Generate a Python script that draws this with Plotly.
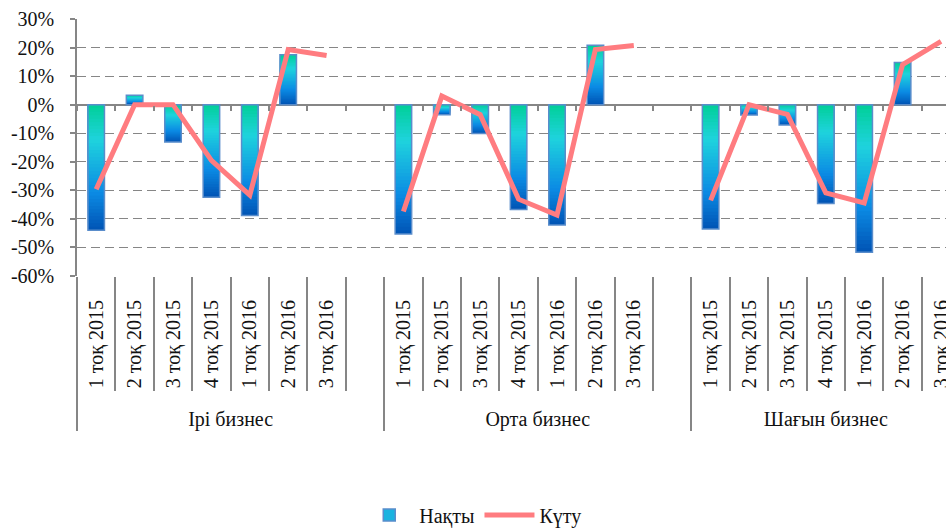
import plotly.graph_objects as go

# ---- data -------------------------------------------------------------
groups = ["Ірі бизнес", "Орта бизнес", "Шағын бизнес"]
quarters = ["1 тоқ 2015", "2 тоқ 2015", "3 тоқ 2015", "4 тоқ 2015",
            "1 тоқ 2016", "2 тоқ 2016", "3 тоқ 2016"]

actual_large = [-44.0, 3.3, -13.1, -32.4, -38.8, 17.5, None]
actual_medium = [-45.3, -3.5, -10.1, -36.7, -42.1, 20.8, None]
actual_small = [-43.5, -3.6, -7.1, -34.6, -51.7, 14.8, None]

expected_large = [-29.6, 0.0, 0.0, -19.5, -31.7, 19.3, 17.2]
expected_medium = [-37.4, 3.0, -3.5, -33.1, -38.7, 19.3, 20.7]
expected_small = [-33.5, 0.0, -3.4, -30.9, -34.4, 14.0, 22.2]

y_ticks = list(range(-60, 31, 10))

# ---- slot layout: each group is followed by an empty spacer slot -------
slot_x, slot_label, bar_vals, line_vals = [], [], [], []
group_start, group_center = [], []
series = [(actual_large, expected_large),
          (actual_medium, expected_medium),
          (actual_small, expected_small)]
pos = 0
for gi, (g, (act, exp)) in enumerate(zip(groups, series)):
    first = pos
    group_start.append(pos - 0.5)
    for q, a, e in zip(quarters, act, exp):
        slot_x.append(pos)
        slot_label.append(q)
        bar_vals.append(a)
        line_vals.append(e)
        pos += 1
    if gi < len(groups) - 1:
        slot_x.append(pos)
        slot_label.append("")
        bar_vals.append(None)
        line_vals.append(None)
        pos += 1
    group_center.append((first + pos - 1) / 2)

# ---- styling ------------------------------------------------------------
FONT = "'Times New Roman', 'Liberation Serif', 'DejaVu Serif', serif"
GREY = "#868686"
BORDER = "#5A8DCB"
LINE_COLOR = "#FF7C80"
BAR_W = 0.43
X_RANGE = [-0.5, 22.13]

# vertical gradient: top of bar (t=0) -> bottom of bar (t=1)
grad_stops = [(0.0, (0x00, 0xCF, 0x98)),
              (0.28, (0x1F, 0xD3, 0xDD)),
              (0.70, (0x0B, 0x8B, 0xE4)),
              (1.0, (0x00, 0x53, 0xB4))]


def grad_color(t):
    for (t0, c0), (t1, c1) in zip(grad_stops[:-1], grad_stops[1:]):
        if t <= t1:
            u = (t - t0) / (t1 - t0) if t1 > t0 else 0
            c = [round(a + (b - a) * u) for a, b in zip(c0, c1)]
            return "rgb({},{},{})".format(*c)
    return "rgb({},{},{})".format(*grad_stops[-1][1])


fig = go.Figure()

# gradient fill built from stacked overlay layers of each bar
N_LAYERS = 36
for k in range(N_LAYERS):
    f_hi = (N_LAYERS - k) / N_LAYERS
    f_mid = (N_LAYERS - k - 0.5) / N_LAYERS
    ys, cols = [], []
    for v in bar_vals:
        if v is None:
            ys.append(None)
            cols.append("rgba(0,0,0,0)")
        else:
            ys.append(v * f_hi)
            t = f_mid if v < 0 else 1 - f_mid
            cols.append(grad_color(t))
    fig.add_trace(go.Bar(x=slot_x, y=ys, width=BAR_W,
                         marker=dict(color=cols, line=dict(width=0)),
                         showlegend=False, hoverinfo="skip"))

# bar outlines
fig.add_trace(go.Bar(x=slot_x, y=bar_vals, width=BAR_W, name="Нақты",
                     marker=dict(color="rgba(0,0,0,0)",
                                 line=dict(color=BORDER, width=1.5)),
                     showlegend=False))

# legend entry for the bars
fig.add_trace(go.Bar(x=slot_x, y=[None] * len(slot_x), width=BAR_W, name="Нақты",
                     marker=dict(color="#19B3E0", line=dict(color=BORDER, width=1.5)),
                     showlegend=True))

# expectation line
fig.add_trace(go.Scatter(x=slot_x, y=line_vals, mode="lines", name="Күту",
                         line=dict(color=LINE_COLOR, width=5),
                         connectgaps=False))

# helper traces so every overlay axis is rendered
for ax in ("x2", "x3", "x4", "x5"):
    fig.add_trace(go.Scatter(x=[None], y=[None], xaxis=ax, showlegend=False,
                             hoverinfo="skip"))

overlay = dict(overlaying="x", range=X_RANGE, showgrid=False, showline=False,
               zeroline=False, tickcolor=GREY, tickwidth=1.5, automargin=False)
boundary_ticks = dict(tickmode="linear", tick0=-0.5, dtick=1, ticks="outside",
                      showticklabels=False)

fig.update_layout(
    width=946, height=529,
    margin=dict(l=77, r=0, t=19, b=253, autoexpand=False),
    paper_bgcolor="white", plot_bgcolor="white",
    barmode="overlay",
    font=dict(family=FONT, size=20, color="#111111"),
    showlegend=True,
    legend=dict(orientation="h", x=0.456, xanchor="center",
                y=-0.93, yanchor="middle", font=dict(family=FONT, size=20),
                itemwidth=50, bgcolor="rgba(0,0,0,0)"),
    # quarter labels
    xaxis=dict(range=X_RANGE, tickmode="array", tickvals=slot_x,
               ticktext=slot_label, tickangle=-90, ticks="",
               showgrid=False, showline=False, zeroline=False,
               automargin=False, ticklabeloverflow="allow",
               ticklabelstandoff=19, tickfont=dict(family=FONT, size=20)),
    # separators between quarter slots below the plot
    xaxis2=dict(anchor="y", side="bottom", ticklen=114, **boundary_ticks,
                **overlay),
    # small ticks along the zero line
    xaxis3=dict(anchor="free", position=60 / 90, side="bottom", ticklen=5,
                **boundary_ticks, **overlay),
    # group dividers
    xaxis4=dict(anchor="y", side="bottom", tickmode="array",
                tickvals=group_start, ticks="outside", ticklen=154,
                showticklabels=False, **overlay),
    # group labels
    xaxis5=dict(anchor="y", side="bottom", tickmode="array",
                tickvals=group_center, ticktext=groups, ticks="",
                ticklabelstandoff=129, tickfont=dict(family=FONT, size=20),
                **overlay),
    yaxis=dict(range=[-60, 30], tickvals=y_ticks,
               ticktext=[f"{v}%" for v in y_ticks],
               showgrid=True, gridcolor=GREY, gridwidth=1.3,
               griddash="9px,5px",
               zeroline=True, zerolinecolor=GREY, zerolinewidth=1.5,
               showline=True, linecolor=GREY, linewidth=1.5,
               ticks="outside", ticklen=5, tickcolor=GREY, tickwidth=1.5,
               automargin=False, ticklabelstandoff=12,
               tickfont=dict(family=FONT, size=20)),
)

fig.write_html("out.html")
